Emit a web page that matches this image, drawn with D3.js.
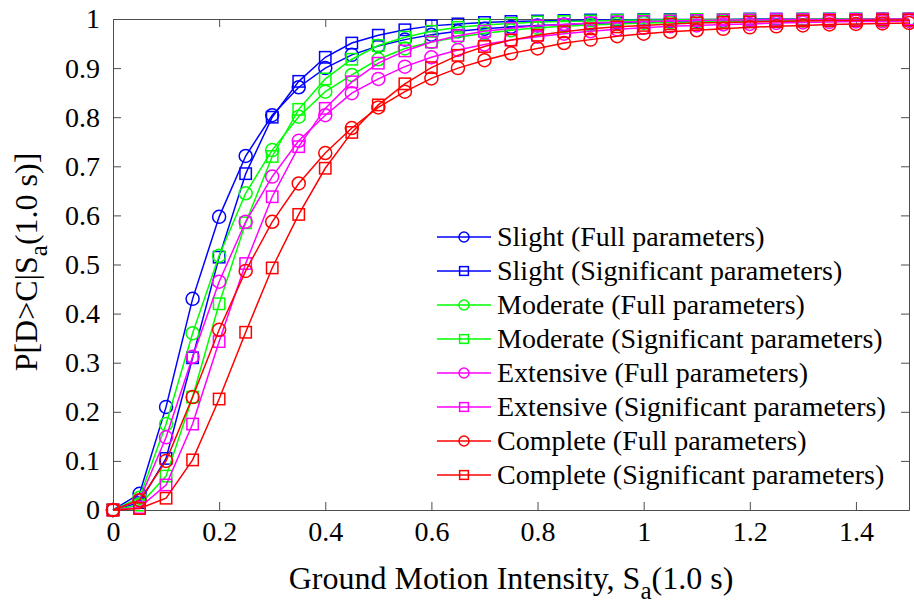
<!DOCTYPE html>
<html>
<head>
<meta charset="utf-8">
<script src="https://cdn.jsdelivr.net/npm/d3@7"></script>
<style>
  body { margin: 0; background: #fff; }
  svg { display: block; font-family: "Liberation Serif", "Times New Roman", serif; }
</style>
</head>
<body>
<svg width="914" height="603"></svg>
<script>
// spectral acceleration, g
var sa = [0, 0.05, 0.1, 0.15, 0.2, 0.25, 0.3, 0.35, 0.4, 0.45, 0.5, 0.55, 0.6, 0.65, 0.7, 0.75,
          0.8, 0.85, 0.9, 0.95, 1.0, 1.05, 1.1, 1.15, 1.2, 1.25, 1.3, 1.35, 1.4, 1.45, 1.5];

var slightFull = [0, 0.033, 0.21, 0.43, 0.597, 0.721, 0.804, 0.861, 0.9, 0.927, 0.945, 0.958, 0.968, 0.975, 0.98, 0.984,
                  0.987, 0.989, 0.991, 0.993, 0.994, 0.995, 0.996, 0.996, 0.997, 0.997, 0.998, 0.998, 0.998, 0.999, 0.999];
var slightSig = [0, 0.015, 0.105, 0.31, 0.515, 0.685, 0.8, 0.873, 0.922, 0.951, 0.967, 0.978, 0.986, 0.99, 0.993, 0.995,
                 0.996, 0.997, 0.998, 0.998, 0.999, 0.999, 0.999, 0.999, 1, 1, 1, 1, 1, 1, 1];
var moderateFull = [0, 0.025, 0.175, 0.36, 0.518, 0.645, 0.733, 0.801, 0.852, 0.886, 0.918, 0.94, 0.953, 0.963, 0.971, 0.977,
                    0.982, 0.985, 0.988, 0.99, 0.992, 0.993, 0.994, 0.995, 0.996, 0.996, 0.997, 0.997, 0.998, 0.998, 0.998];
var moderateSig = [0, 0.01, 0.069, 0.23, 0.42, 0.585, 0.72, 0.816, 0.878, 0.918, 0.946, 0.963, 0.975, 0.983, 0.988, 0.991,
                   0.994, 0.995, 0.996, 0.997, 0.998, 0.998, 0.999, 0.999, 0.999, 0.999, 1, 1, 1, 1, 1];
var extensiveFull = [0, 0.02, 0.148, 0.312, 0.465, 0.587, 0.679, 0.752, 0.804, 0.849, 0.878, 0.903, 0.922, 0.937, 0.948, 0.957,
                     0.964, 0.97, 0.975, 0.979, 0.982, 0.985, 0.987, 0.989, 0.99, 0.992, 0.993, 0.994, 0.995, 0.995, 0.996];
var extensiveSig = [0, 0.005, 0.051, 0.175, 0.343, 0.502, 0.638, 0.74, 0.818, 0.872, 0.91, 0.935, 0.953, 0.966, 0.975, 0.981,
                    0.986, 0.989, 0.992, 0.994, 0.995, 0.996, 0.997, 0.998, 0.998, 0.999, 0.999, 0.999, 0.999, 1, 1];
var completeFull = [0, 0.02, 0.1, 0.23, 0.367, 0.487, 0.587, 0.665, 0.727, 0.778, 0.82, 0.852, 0.879, 0.9, 0.916, 0.93,
                    0.94, 0.951, 0.958, 0.965, 0.97, 0.974, 0.977, 0.98, 0.983, 0.985, 0.987, 0.989, 0.99, 0.991, 0.992];
var completeSig = [0, 0.003, 0.024, 0.102, 0.226, 0.362, 0.493, 0.602, 0.696, 0.769, 0.825, 0.868, 0.901, 0.926, 0.944, 0.957,
                   0.967, 0.974, 0.98, 0.984, 0.987, 0.99, 0.992, 0.993, 0.994, 0.995, 0.996, 0.997, 0.997, 0.998, 0.998];

var seriesNames = ["Slight (Full parameters)", "Slight (Significant parameters)",
                   "Moderate (Full parameters)", "Moderate (Significant parameters)",
                   "Extensive (Full parameters)", "Extensive (Significant parameters)",
                   "Complete (Full parameters)", "Complete (Significant parameters)"];
var seriesValues = [slightFull, slightSig, moderateFull, moderateSig,
                    extensiveFull, extensiveSig, completeFull, completeSig];

var xTicks = [0, 0.2, 0.4, 0.6, 0.8, 1, 1.2, 1.4];
var yTicks = [0, 0.1, 0.2, 0.3, 0.4, 0.5, 0.6, 0.7, 0.8, 0.9, 1];

// styles kept apart from the data
var colors = ["#0000ff", "#0000ff", "#00ff00", "#00ff00", "#ff00ff", "#ff00ff", "#ff0000", "#ff0000"];
var shapes = ["circle", "square", "circle", "square", "circle", "square", "circle", "square"];

var svg = d3.select("svg"),
    margin = {left: 113, right: 5, top: 19, bottom: 93},
    width = +svg.attr("width") - margin.left - margin.right,
    height = +svg.attr("height") - margin.top - margin.bottom,
    axisColor = "#4d4d4d",
    tickFont = 28,
    fmt = d3.format("~g");

svg.append("rect").attr("width", 914).attr("height", 603).attr("fill", "#fff");

var x = d3.scaleLinear().domain([0, 1.5]).range([0, width]);
var y = d3.scaleLinear().domain([0, 1]).range([height, 0]);

var g = svg.append("g")
    .attr("transform", "translate(" + margin.left + "," + margin.top + ")");

function styleAxis(sel) {
  sel.selectAll("path, line").attr("stroke", axisColor);
  sel.selectAll("text")
      .attr("fill", "#000")
      .style("font-size", tickFont + "px")
      .style("font-family", "'Liberation Serif', 'Times New Roman', serif");
}

g.append("g")
    .attr("transform", "translate(0," + height + ")")
    .call(d3.axisBottom(x).tickValues(xTicks).tickSizeInner(-8).tickSizeOuter(0).tickPadding(11).tickFormat(fmt))
    .call(styleAxis);

g.append("g")
    .call(d3.axisTop(x).tickValues(xTicks).tickSizeInner(-8).tickSizeOuter(0).tickFormat(""))
    .call(styleAxis);

g.append("g")
    .call(d3.axisLeft(y).tickValues(yTicks).tickSizeInner(-8).tickSizeOuter(0).tickPadding(13).tickFormat(fmt))
    .call(styleAxis);

g.append("g")
    .attr("transform", "translate(" + width + ",0)")
    .call(d3.axisRight(y).tickValues(yTicks).tickSizeInner(-8).tickSizeOuter(0).tickFormat(""))
    .call(styleAxis);

var line = d3.line()
    .x(function(d) { return x(d[0]); })
    .y(function(d) { return y(d[1]); });

function drawMarker(sel, shape, color, r) {
  if (shape === "circle") {
    sel.append("circle")
        .attr("r", r)
        .attr("fill", "none")
        .attr("stroke", color)
        .attr("stroke-width", 1.5);
  } else {
    var s = r * 1.75;
    sel.append("rect")
        .attr("x", -s / 2).attr("y", -s / 2)
        .attr("width", s).attr("height", s)
        .attr("fill", "none")
        .attr("stroke", color)
        .attr("stroke-width", 1.5);
  }
}

seriesValues.forEach(function(vals, i) {
  var pts = sa.map(function(s, j) { return [s, vals[j]]; });
  var sg = g.append("g").attr("class", "series");
  sg.append("path")
      .datum(pts)
      .attr("d", line)
      .attr("fill", "none")
      .attr("stroke", colors[i])
      .attr("stroke-width", 1.5);
  sg.selectAll("g.pt")
      .data(pts)
    .enter().append("g")
      .attr("class", "pt")
      .attr("transform", function(d) { return "translate(" + x(d[0]) + "," + y(d[1]) + ")"; })
      .each(function() { drawMarker(d3.select(this), shapes[i], colors[i], 6.5); });
});

// legend
var legend = svg.append("g").attr("transform", "translate(437,237)");
seriesNames.forEach(function(name, i) {
  var row = legend.append("g").attr("transform", "translate(0," + i * 34 + ")");
  row.append("line")
      .attr("x1", 0).attr("x2", 54)
      .attr("stroke", colors[i]).attr("stroke-width", 1.5);
  var m = row.append("g").attr("transform", "translate(27,0)");
  drawMarker(m, shapes[i], colors[i], 5);
  row.append("text")
      .attr("x", 60).attr("dy", "0.33em")
      .attr("fill", "#000")
      .style("font-size", "28px")
      .text(name);
});

// axis labels
var xl = svg.append("text")
    .attr("x", 511)
    .attr("y", 589)
    .attr("text-anchor", "middle")
    .attr("fill", "#000")
    .style("font-size", "32px");
xl.append("tspan").text("Ground Motion Intensity, S");
xl.append("tspan").attr("dy", 10).style("font-size", "25px").text("a");
xl.append("tspan").attr("dy", -10).text("(1.0 s)");

var yl = svg.append("text")
    .attr("transform", "translate(37,262) rotate(-90)")
    .attr("text-anchor", "middle")
    .attr("fill", "#000")
    .style("font-size", "32px");
yl.append("tspan").text("P[D>C|S");
yl.append("tspan").attr("dy", 10).style("font-size", "25px").text("a");
yl.append("tspan").attr("dy", -10).text("(1.0 s)]");
</script>
</body>
</html>
